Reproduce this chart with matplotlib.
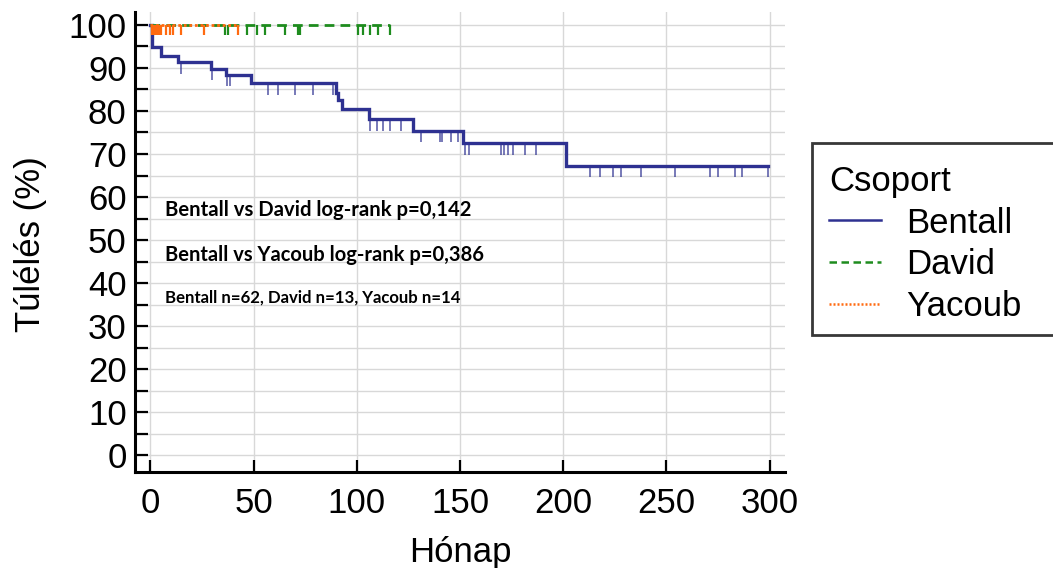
import numpy as np
import matplotlib
matplotlib.use("Agg")
import matplotlib.pyplot as plt
from matplotlib.ticker import MultipleLocator
from matplotlib.lines import Line2D
from matplotlib.patches import Rectangle

# ---- data ----
bentall_times = [0, 0.5, 5.3, 13.4, 29.2, 36.8, 48.9, 89.8, 91.0, 93.0, 105.9, 127.2, 151.5, 201.2]
bentall_surv = [100, 94.8, 92.8, 91.3, 89.8, 88.4, 86.4, 84.1, 82.6, 80.4, 78.1, 75.4, 72.5, 67.3]
bentall_end = 299.2
bentall_censor = [15, 29.6, 36.9, 38.4, 57, 61.8, 69.9, 78.8, 88.3, 106.5, 110, 112.6, 116, 121.6,
                  131.3, 140.2, 141.3, 145.5, 149, 152.3, 154.4, 170, 171.2, 173.3, 175.7, 181.3, 187,
                  212.8, 217.7, 224.1, 228.2, 237.9, 254, 271.3, 275, 283.1, 286.8, 299.2]

david_end = 116
david_censor = [36, 37.6, 47, 51.4, 55.4, 65.1, 71.5, 72.3, 100.6, 103, 106.2, 110.3, 115.9]

yacoub_end = 42.4
yacoub_censor = [0.5, 1, 1.5, 2, 2.5, 3, 4, 5, 7.7, 9.4, 11, 15, 26, 42.4]

group_names = ["Bentall", "David", "Yacoub"]
legend_title = "Csoport"
annot_lines = ["Bentall vs David log-rank p=0,142",
               "Bentall vs Yacoub log-rank p=0,386",
               "Bentall n=62, David n=13, Yacoub n=14"]

c_bentall = "#2E3191"
c_david = "#1E8C1E"
c_yacoub = "#FF6A10"

plt.rcParams['font.family'] = ['Liberation Sans', 'DejaVu Sans']

W, H = 1053, 568
fig = plt.figure(figsize=(W / 100, H / 100), dpi=100)
ax = fig.add_axes([135 / W, 1 - 472 / H, 650 / W, (472 - 12) / H])

ax.set_xlim(-7.5, 307.5)
ax.set_ylim(-3.9, 103.0)


def surv_at(t, times, surv):
    idx = np.searchsorted(times, t, side='right') - 1
    return surv[max(idx, 0)]


# Bentall step curve
bt = list(bentall_times) + [bentall_end]
bs = list(bentall_surv) + [bentall_surv[-1]]
ax.step(bt, bs, where='post', color=c_bentall, lw=2.4, zorder=4, solid_joinstyle='miter')
cy = [surv_at(t, bentall_times, bentall_surv) for t in bentall_censor]
ax.vlines(bentall_censor, np.array(cy) - 2.7, cy, color=c_bentall, lw=1.3, alpha=0.7, zorder=3)

# David
ax.plot([0, david_end], [100, 100], color=c_david, lw=2.0, ls=(0, (3.5, 2.2)), zorder=4)
ax.vlines(david_censor, 100 - 2.4, 100, color=c_david, lw=1.6, zorder=4)

# Yacoub
ax.plot([0, yacoub_end], [100, 100], color=c_yacoub, lw=2.0, ls=(0, (1, 1)), zorder=5)
ax.vlines(yacoub_censor, 100 - 2.4, 100, color=c_yacoub, lw=1.6, zorder=5)

# axes styling
for s in ['top', 'right']:
    ax.spines[s].set_visible(False)
for s in ['left', 'bottom']:
    ax.spines[s].set_linewidth(2.2)
    ax.spines[s].set_color('black')

ax.xaxis.set_major_locator(MultipleLocator(50))
ax.yaxis.set_major_locator(MultipleLocator(10))
ax.yaxis.set_minor_locator(MultipleLocator(5))
ax.tick_params(axis='both', which='both', direction='in', width=1.6, color='black')
ax.tick_params(axis='y', which='both', length=9.5, pad=6)
ax.tick_params(axis='x', which='major', length=9, pad=11)
ax.tick_params(axis='both', which='major', labelsize=25)

ax.grid(True, which='major', axis='x', color='#d8d8d8', lw=1.0, zorder=0)
ax.grid(True, which='both', axis='y', color='#d8d8d8', lw=1.0, zorder=0)
ax.set_axisbelow(True)

ax.set_ylabel("Túlélés (%)", fontsize=25)
ax.set_xlabel("Hónap", fontsize=25)
ax.yaxis.set_label_coords(-0.135, 0.495)
ax.xaxis.set_label_coords(0.5, -0.14)

# annotations
ann_y = [57.0, 46.5, 36.7]
ann_size = [14.6, 14.5, 12.1]
for txt, yv, fs in zip(annot_lines, ann_y, ann_size):
    ax.text(7, yv, txt, fontsize=fs, fontweight='bold', family=['Lato', 'DejaVu Sans'],
            va='center', ha='left', color='black', zorder=6)

# legend (frame drawn separately; it runs past the right edge as in the reference)
fig.patches.append(Rectangle((812 / W, 1 - 335 / H), 260 / W, 192 / H,
                             transform=fig.transFigure, fill=True, facecolor='white',
                             edgecolor='#383838', lw=2.0, zorder=1))
handles = [Line2D([], [], color=c_bentall, lw=1.8),
           Line2D([], [], color=c_david, lw=1.8, ls=(0, (3, 1.8))),
           Line2D([], [], color=c_yacoub, lw=1.8, ls=(0, (0.8, 0.8)))]
leg = fig.legend(handles, group_names, title=legend_title, loc='upper left',
                 bbox_to_anchor=(822 / W, 1 - 158 / H), fontsize=25, title_fontsize=25,
                 frameon=False, alignment='left',
                 handlelength=1.5, handletextpad=0.72, labelspacing=0.25,
                 borderpad=0.2, borderaxespad=0)

fig.savefig("out.png", dpi=100)
